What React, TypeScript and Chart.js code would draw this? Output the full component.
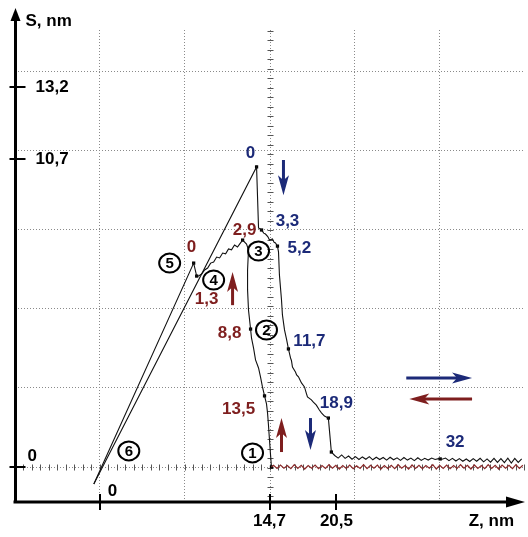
import React, { useEffect, useRef } from 'react';
import { Chart, registerables } from 'chart.js';
Chart.register(...registerables);

// ---- data (Z in nm, S in nm) ----
const approachZ = [-0.52, 13.58, 13.75, 14.01, 14.2, 14.35, 14.55, 14.7, 14.96, 15.1, 15.22, 15.39, 15.48, 15.56, 15.74, 15.82, 16.0, 16.17, 16.34, 16.52, 16.6, 16.69, 16.95, 17.05, 17.21, 17.47, 17.73, 17.9, 17.99, 18.33, 18.5, 18.76, 19.02, 19.2, 19.46, 19.8, 19.89, 20.06,
  20.35, 20.65, 20.95, 21.25, 21.55, 21.85, 22.15, 22.45, 22.75, 23.05, 23.35, 23.65, 23.95, 24.25, 24.55, 24.85, 25.15, 25.45, 25.75, 26.05, 26.35, 26.65, 26.95, 27.25, 27.55, 27.85, 28.15, 28.45, 28.75, 29.05, 29.35, 29.65, 29.95, 30.25, 30.55, 30.85, 31.15, 31.45, 31.75, 32.05, 32.35, 32.65, 32.95, 33.25, 33.55, 33.85, 34.15, 34.45, 34.75, 35.05, 35.35, 35.65, 35.95, 36.25, 36.55];
const approachS = [-0.59, 10.42, 8.3, 8.23, 8.12, 8.09, 8.0, 7.88, 7.92, 7.8, 7.78, 7.67, 7.47, 6.67, 5.8, 5.28, 4.76, 4.45, 4.1, 3.79, 3.7, 3.47, 3.3, 3.2, 3.13, 2.92, 2.78, 2.55, 2.43, 2.33, 2.25, 2.15, 1.98, 1.88, 1.77, 1.7, 1.29, 0.52,
  0.4, 0.31, 0.42, 0.3, 0.38, 0.27, 0.36, 0.26, 0.35, 0.27, 0.36, 0.25, 0.34, 0.26, 0.33, 0.24, 0.34, 0.25, 0.32, 0.23, 0.33, 0.24, 0.31, 0.22, 0.32, 0.23, 0.3, 0.24, 0.31, 0.26, 0.29, 0.27, 0.31, 0.22, 0.3, 0.21, 0.29, 0.2, 0.28, 0.19, 0.29, 0.2, 0.3, 0.18, 0.28, 0.17, 0.3, 0.16, 0.29, 0.15, 0.31, 0.14, 0.3, 0.16, 0.28];

const retractZ = [14.87, 14.79, 14.7, 14.61, 14.53, 14.44, 14.27, 14.09, 13.92, 13.75, 13.49, 13.32, 13.14, 13.06, 12.88, 12.8, 12.8, 12.88, 12.71, 12.37, 12.11, 11.93, 11.67, 11.41, 11.15, 10.9, 10.64, 10.38, 10.12, 9.86, 9.6, 9.34, 9.08, 8.82, 8.56, 8.39, 8.13, -0.52];
const retractS = [0, 0.42, 0.94, 1.46, 1.88, 2.19, 2.47, 2.78, 3.13, 3.44, 3.72, 4.13, 4.48, 4.79, 5.45, 6.15, 6.84, 7.54, 7.74, 7.88, 7.74, 7.64, 7.71, 7.54, 7.57, 7.4, 7.43, 7.26, 7.29, 7.12, 7.08, 6.91, 6.84, 6.7, 6.63, 6.63, 7.08, -0.59];

const retractBaseZ = [14.87, 15.05, 15.35, 15.65, 15.95, 16.25, 16.55, 16.85, 17.15, 17.45, 17.75, 18.05, 18.35, 18.65, 18.95, 19.25, 19.55, 19.85, 20.15, 20.45, 20.75, 21.05, 21.35, 21.65, 21.95, 22.25, 22.55, 22.85, 23.15, 23.45, 23.75, 24.05, 24.35, 24.65, 24.95, 25.25, 25.55, 25.85, 26.15, 26.45, 26.75, 27.05, 27.35, 27.65, 27.95, 28.25, 28.55, 28.85, 29.15, 29.45, 29.75, 30.05, 30.35, 30.65, 30.95, 31.25, 31.55, 31.85, 32.15, 32.45, 32.75, 33.05, 33.35, 33.65, 33.95, 34.25, 34.55, 34.85, 35.15, 35.45, 35.75, 36.05, 36.35, 36.65];
const retractBaseS = [0, 0.06, -0.05, 0.07, -0.04, 0.05, -0.06, 0.08, -0.05, 0.06, -0.07, 0.05, -0.04, 0.07, -0.06, 0.05, -0.05, 0.08, -0.04, 0.06, -0.07, 0.05, -0.05, 0.07, -0.06, 0.04, -0.05, 0.08, -0.06, 0.06, -0.04, 0.07, -0.07, 0.05, -0.05, 0.06, -0.06, 0.08, -0.04, 0.05, -0.07, 0.07, -0.05, 0.06, -0.06, 0.05, -0.04, 0.08, -0.07, 0.06, -0.05, 0.07, -0.06, 0.05, -0.05, 0.08, -0.04, 0.06, -0.07, 0.07, -0.05, 0.05, -0.06, 0.08, -0.05, 0.06, -0.07, 0.07, -0.04, 0.06, -0.06, 0.08, -0.05, 0.06];

const markerZ = [13.58, 14.01, 15.39, 16.34, 19.8, 20.06, 29.49, 8.13, 8.39, 12.37, 13.06, 14.27, 14.87];
const markerS = [10.42, 8.23, 7.67, 4.1, 1.7, 0.52, 0.28, 7.08, 6.63, 7.88, 4.79, 2.47, 0];

// axes
const zMin = -7.35, zMax = 36.75;
const sMin = -1.215, sMax = 15.174;
const gridZ = [0, 7.35, 22.05, 29.4];
const gridS = [2.75, 5.5, 8.25, 11, 13.75];
const sTicks = [13.2, 10.7, 0];
const sTickLabels = ['13,2', '10,7', '0'];
const zTicks = [0, 14.7, 20.5];
const zTickLabels = ['0', '14,7', '20,5'];

// annotations
const blueLabels = [
  { t: '0', z: 13.06, s: 10.9 }, { t: '3,3', z: 16.26, s: 8.54 }, { t: '5,2', z: 17.29, s: 7.6 },
  { t: '11,7', z: 18.16, s: 4.37 }, { t: '18,9', z: 20.49, s: 2.22 }, { t: '32', z: 30.78, s: 0.87 },
];
const redLabels = [
  { t: '0', z: 7.95, s: 7.64 }, { t: '1,3', z: 9.25, s: 5.83 }, { t: '2,9', z: 12.54, s: 8.23 },
  { t: '8,8', z: 11.24, s: 4.65 }, { t: '13,5', z: 12.02, s: 2.01 },
];
const circles = [
  { t: '1', z: 13.23, s: 0.49 }, { t: '2', z: 14.44, s: 4.76 }, { t: '3', z: 13.75, s: 7.5 },
  { t: '4', z: 9.86, s: 6.49 }, { t: '5', z: 6.05, s: 7.08 }, { t: '6', z: 2.51, s: 0.56 },
];
const arrows = [
  { c: 'blue', z1: 15.91, s1: 10.66, z2: 15.91, s2: 9.44 },
  { c: 'red', z1: 11.5, s1: 5.62, z2: 11.5, s2: 6.77 },
  { c: 'red', z1: 15.74, s1: 0.52, z2: 15.74, s2: 1.7 },
  { c: 'blue', z1: 18.25, s1: 1.7, z2: 18.25, s2: 0.59 },
  { c: 'blue', z1: 26.55, s1: 3.09, z2: 32.25, s2: 3.09 },
  { c: 'red', z1: 32.25, s1: 2.36, z2: 26.81, s2: 2.36 },
];

const BLUE = '#1c2a78';
const RED = '#7e1e1e';
const FONT = '"Liberation Sans", Arial, sans-serif';

const zip = (a: number[], b: number[]) => {
  const n = Math.min(a.length, b.length);
  const out: { x: number; y: number }[] = [];
  for (let i = 0; i < n; i++) out.push({ x: a[i], y: b[i] });
  return out;
};

function drawArrow(ctx: CanvasRenderingContext2D, x1: number, y1: number, x2: number, y2: number, color: string) {
  const ang = Math.atan2(y2 - y1, x2 - x1);
  const len = Math.hypot(x2 - x1, y2 - y1);
  ctx.save();
  ctx.translate(x1, y1);
  ctx.rotate(ang);
  ctx.strokeStyle = color;
  ctx.fillStyle = color;
  ctx.lineWidth = 3;
  ctx.beginPath();
  ctx.moveTo(0, 0);
  ctx.lineTo(len - 12, 0);
  ctx.stroke();
  ctx.beginPath();
  ctx.moveTo(len, 0);
  ctx.lineTo(len - 20, -5.5);
  ctx.lineTo(len - 15, 0);
  ctx.lineTo(len - 20, 5.5);
  ctx.closePath();
  ctx.fill();
  ctx.restore();
}

const decor = {
  id: 'decor',
  beforeDatasetsDraw(chart: any) {
    const { ctx, chartArea: a, scales } = chart;
    const x = scales.x, y = scales.y;
    ctx.save();
    const y0 = Math.round(y.getPixelForValue(0)) + 0.5;
    const x0 = Math.round(x.getPixelForValue(14.7)) + 0.5;
    ctx.strokeStyle = '#8a8a8a';
    ctx.lineWidth = 1;
    ctx.setLineDash([1, 2]);
    ctx.beginPath();
    ctx.moveTo(a.left, y0); ctx.lineTo(a.right, y0);
    ctx.moveTo(x0, a.top); ctx.lineTo(x0, a.bottom);
    ctx.stroke();
    ctx.setLineDash([]);
    ctx.strokeStyle = '#555';
    ctx.beginPath();
    for (let v = zMin + 0.735; v < zMax; v += 0.735) {
      const px = Math.round(x.getPixelForValue(v)) + 0.5;
      ctx.moveTo(px, y0 - 3); ctx.lineTo(px, y0 + 3);
    }
    for (let v = sMin + 0.2; v < sMax; v += 0.33) {
      const py = Math.round(y.getPixelForValue(v)) + 0.5;
      ctx.moveTo(x0 - 3, py); ctx.lineTo(x0 + 3, py);
    }
    ctx.stroke();
    ctx.restore();
  },
  afterDatasetsDraw(chart: any) {
    const { ctx, chartArea: a, scales } = chart;
    const x = scales.x, y = scales.y;
    ctx.save();
    const ax = a.left + 0.5;
    const ay = a.bottom;
    // axes lines
    ctx.strokeStyle = '#000';
    ctx.fillStyle = '#000';
    ctx.lineWidth = 3;
    ctx.beginPath();
    ctx.moveTo(ax, ay + 1); ctx.lineTo(ax, a.top - 12);
    ctx.moveTo(ax - 2, ay); ctx.lineTo(a.right - 10, ay);
    ctx.stroke();
    ctx.beginPath();
    ctx.moveTo(ax, a.top - 22); ctx.lineTo(ax - 5, a.top - 9); ctx.lineTo(ax + 5, a.top - 9); ctx.closePath();
    ctx.fill();
    ctx.beginPath();
    ctx.moveTo(a.right + 1, ay); ctx.lineTo(a.right - 18, ay - 5.5); ctx.lineTo(a.right - 18, ay + 5.5); ctx.closePath();
    ctx.fill();
    // ticks
    ctx.lineWidth = 2;
    ctx.beginPath();
    sTicks.forEach((v) => {
      const py = Math.round(y.getPixelForValue(v));
      ctx.moveTo(ax - 6, py); ctx.lineTo(ax + 10, py);
    });
    zTicks.forEach((v) => {
      const px = Math.round(x.getPixelForValue(v));
      ctx.moveTo(px, ay - 8); ctx.lineTo(px, ay + 8);
    });
    ctx.stroke();
    // tick labels
    ctx.font = `bold 17px ${FONT}`;
    ctx.textBaseline = 'middle';
    ctx.textAlign = 'left';
    sTicks.forEach((v, i) => {
      const py = y.getPixelForValue(v);
      if (v === 0) ctx.fillText(sTickLabels[i], ax + 12, py - 11);
      else ctx.fillText(sTickLabels[i], ax + 20, py);
    });
    zTicks.forEach((v, i) => {
      const px = x.getPixelForValue(v);
      if (v === 0) { ctx.textAlign = 'left'; ctx.fillText(zTickLabels[i], px + 8, ay - 11); }
      else { ctx.textAlign = 'center'; ctx.fillText(zTickLabels[i], px, ay + 19); }
    });
    // axis titles
    ctx.textAlign = 'left';
    ctx.fillText('S, nm', ax + 10, a.top - 9);
    ctx.textAlign = 'right';
    ctx.fillText('Z, nm', a.right - 10, ay + 19);
    // value labels
    ctx.textAlign = 'center';
    ctx.fillStyle = BLUE;
    blueLabels.forEach((l) => ctx.fillText(l.t, x.getPixelForValue(l.z), y.getPixelForValue(l.s)));
    ctx.fillStyle = RED;
    redLabels.forEach((l) => ctx.fillText(l.t, x.getPixelForValue(l.z), y.getPixelForValue(l.s)));
    // circled numbers
    ctx.strokeStyle = '#000';
    ctx.fillStyle = '#000';
    ctx.lineWidth = 2;
    ctx.font = `bold 15px ${FONT}`;
    circles.forEach((c) => {
      const px = x.getPixelForValue(c.z), py = y.getPixelForValue(c.s);
      ctx.beginPath();
      ctx.ellipse(px, py, 10.5, 9.5, 0, 0, Math.PI * 2);
      ctx.stroke();
      ctx.fillText(c.t, px, py + 1);
    });
    // arrows
    arrows.forEach((r) => drawArrow(ctx, x.getPixelForValue(r.z1), y.getPixelForValue(r.s1), x.getPixelForValue(r.z2), y.getPixelForValue(r.s2), r.c === 'blue' ? BLUE : RED));
    ctx.restore();
  },
};

export default function App() {
  const ref = useRef<HTMLCanvasElement | null>(null);
  useEffect(() => {
    if (!ref.current) return;
    const chart = new Chart(ref.current, {
      type: 'scatter',
      data: {
        datasets: [
          { data: zip(retractBaseZ, retractBaseS), showLine: true, borderColor: '#8a2a2a', borderWidth: 1.2, pointRadius: 0 },
          { data: zip(approachZ, approachS), showLine: true, borderColor: '#111', borderWidth: 1.1, pointRadius: 0 },
          { data: zip(retractZ, retractS), showLine: true, borderColor: '#111', borderWidth: 1.1, pointRadius: 0 },
          { data: zip(markerZ, markerS), showLine: false, pointStyle: 'rect', pointRadius: 2.3, backgroundColor: '#000', borderWidth: 0 },
        ],
      } as any,
      options: {
        animation: false,
        responsive: false,
        events: [],
        layout: { padding: { left: 15, right: 3, top: 30, bottom: 35 } },
        plugins: { legend: { display: false }, tooltip: { enabled: false } },
        scales: {
          x: {
            type: 'linear', min: zMin, max: zMax,
            afterBuildTicks: (s: any) => { s.ticks = gridZ.map((v) => ({ value: v })); },
            ticks: { display: false },
            grid: { color: '#8a8a8a', lineWidth: 1, drawTicks: false },
            border: { display: false, dash: [1, 2] },
          },
          y: {
            type: 'linear', min: sMin, max: sMax,
            afterBuildTicks: (s: any) => { s.ticks = gridS.map((v) => ({ value: v })); },
            ticks: { display: false },
            grid: { color: '#8a8a8a', lineWidth: 1, drawTicks: false },
            border: { display: false, dash: [1, 2] },
          },
        },
      } as any,
      plugins: [decor],
    });
    return () => chart.destroy();
  }, []);
  return (
    <div style={{ position: 'absolute', left: 0, top: 0, width: 528, height: 537, background: '#fff' }}>
      <canvas ref={ref} width={528} height={537} style={{ display: 'block' }} />
    </div>
  );
}
